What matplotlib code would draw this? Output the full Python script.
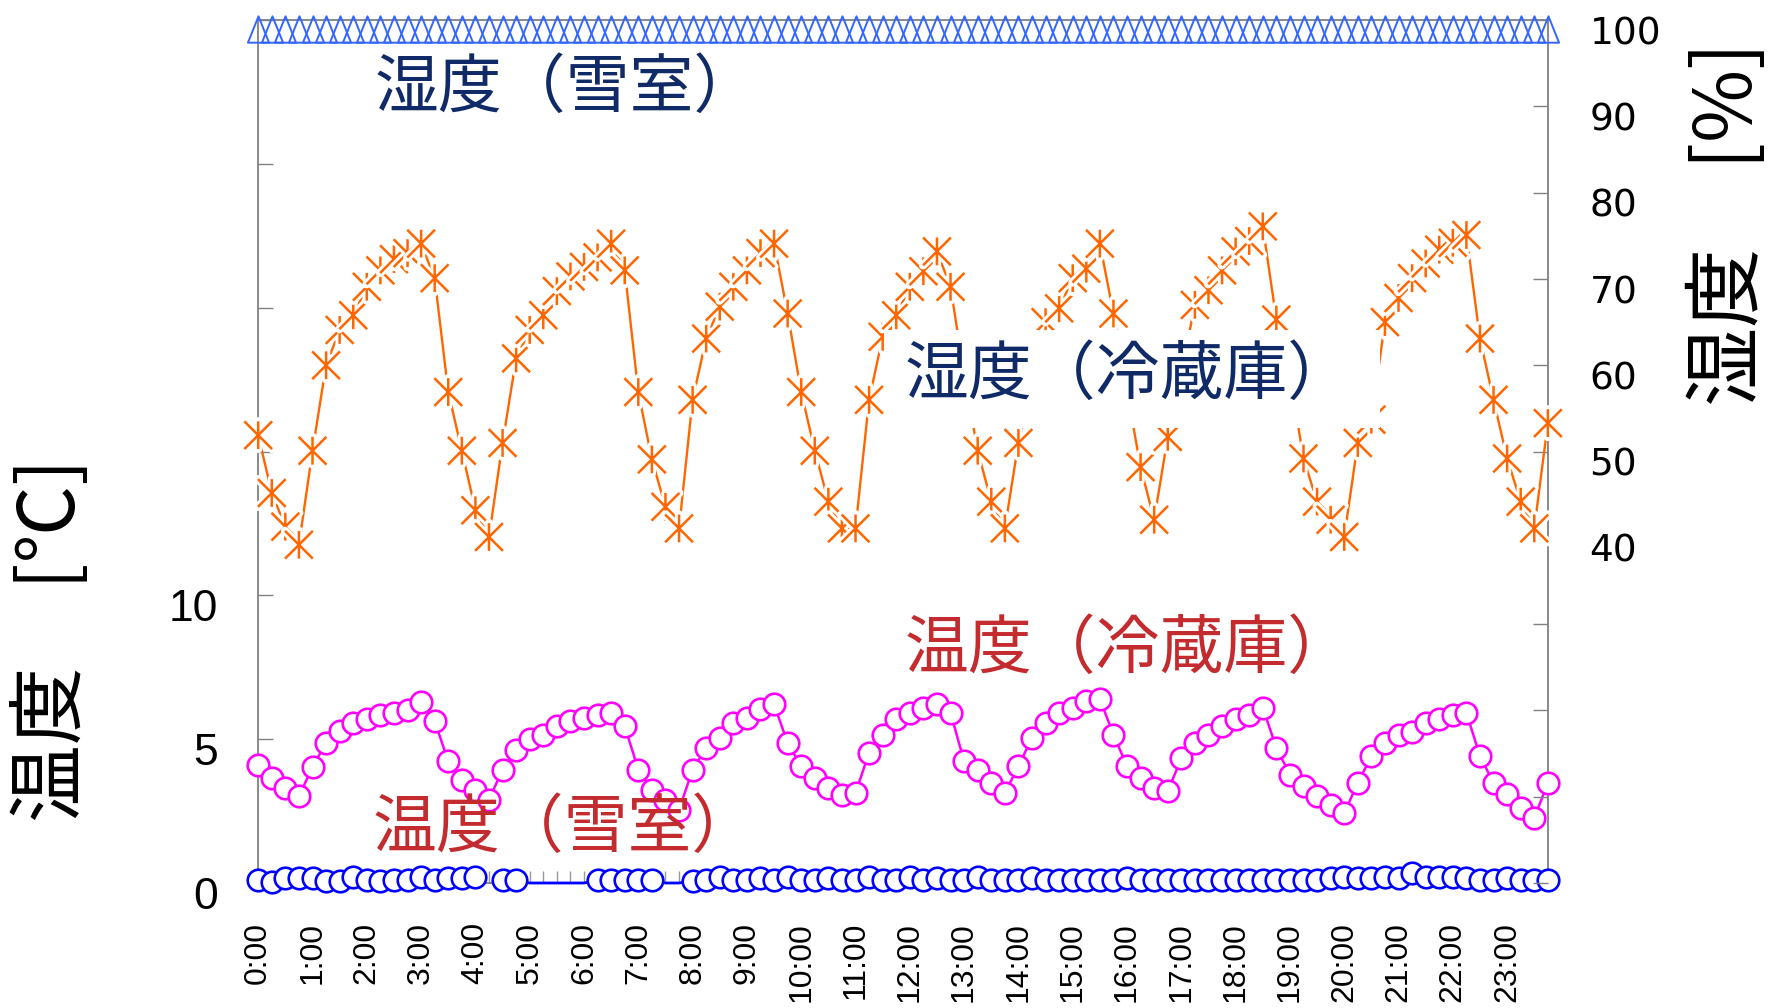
import matplotlib
matplotlib.use('Agg')
import matplotlib.pyplot as plt
import matplotlib.patheffects as pe
import numpy as np
from matplotlib.path import Path
from matplotlib.patches import Rectangle
from matplotlib.transforms import ScaledTranslation

plt.rcParams['font.family'] = ['Liberation Sans', 'Noto Sans CJK JP', 'DejaVu Sans']

# readings every 15 minutes, 0:00 .. 23:45
times = [f"{i // 4}:{(i % 4) * 15:02d}" for i in range(96)]
hour_labels = [f"{h}:00" for h in range(24)]

# 湿度（冷蔵庫） [%]
fridge_humidity = [
    51.9, 45.2, 41.3, 39.2, 50.1, 60.0, 64.1, 65.8,
    69.1, 71.0, 72.3, 73.0, 74.1, 70.1, 56.9, 50.1,
    43.2, 40.1, 51.0, 60.8, 64.1, 65.8, 68.6, 70.3,
    71.4, 72.5, 74.1, 71.0, 56.9, 49.1, 43.6, 41.1,
    56.0, 63.1, 66.8, 69.1, 71.0, 73.0, 74.1, 66.0,
    56.9, 50.1, 44.2, 41.1, 41.1, 56.0, 63.3, 65.8,
    69.1, 70.9, 73.2, 69.1, 58.9, 50.1, 44.2, 41.1,
    51.0, 57.7, 65.0, 66.6, 70.1, 71.2, 74.1, 66.0,
    57.0, 48.2, 42.1, 51.7, 59.2, 67.0, 68.7, 71.0,
    73.2, 74.4, 76.1, 65.3, 58.8, 49.2, 44.2, 42.1,
    40.1, 51.0, 53.7, 65.0, 67.8, 70.1, 71.8, 73.4,
    74.2, 75.1, 63.1, 56.0, 49.2, 44.2, 41.1, 53.3,
]

# 湿度（雪室） [%]
snow_humidity = [
    99, 99, 99, 99, 99, 99, 99, 99, 99, 99, 99, 99,
    99, 99, 99, 99, 99, 99, 99, 99, 99, 99, 99, 99,
    99, 99, 99, 99, 99, 99, 99, 99, 99, 99, 99, 99,
    99, 99, 99, 99, 99, 99, 99, 99, 99, 99, 99, 99,
    99, 99, 99, 99, 99, 99, 99, 99, 99, 99, 99, 99,
    99, 99, 99, 99, 99, 99, 99, 99, 99, 99, 99, 99,
    99, 99, 99, 99, 99, 99, 99, 99, 99, 99, 99, 99,
    99, 99, 99, 99, 99, 99, 99, 99, 99, 99, 99, 99,
]

# 温度（冷蔵庫） [℃]
fridge_temp = [
    4.12, 3.65, 3.30, 3.01, 4.04, 4.87, 5.28, 5.55,
    5.71, 5.83, 5.92, 6.01, 6.29, 5.63, 4.23, 3.59,
    3.24, 2.90, 3.94, 4.64, 4.99, 5.16, 5.45, 5.63,
    5.75, 5.83, 5.92, 5.45, 3.94, 3.24, 2.90, 2.55,
    3.94, 4.70, 5.05, 5.57, 5.75, 6.04, 6.21, 4.87,
    4.06, 3.65, 3.30, 3.07, 3.13, 4.53, 5.16, 5.69,
    5.92, 6.10, 6.21, 5.92, 4.23, 3.94, 3.48, 3.13,
    4.06, 5.05, 5.57, 5.92, 6.10, 6.33, 6.39, 5.16,
    4.06, 3.65, 3.30, 3.19, 4.33, 4.87, 5.13, 5.45,
    5.71, 5.83, 6.10, 4.70, 3.77, 3.38, 3.01, 2.72,
    2.43, 3.48, 4.41, 4.87, 5.16, 5.24, 5.55, 5.71,
    5.83, 5.92, 4.41, 3.48, 3.11, 2.61, 2.26, 3.48,
]

# 温度（雪室） [℃]  (nan = missing reading)
snow_temp = [
    0.10, 0.05, 0.16, 0.16, 0.16, 0.08, 0.08, 0.22,
    0.10, 0.08, 0.10, 0.12, 0.22, 0.10, 0.16, 0.16,
    0.22, np.nan, 0.10, 0.10, 0.0, 0.0, 0.0, 0.0,
    0.0, 0.10, 0.10, 0.12, 0.10, 0.10, 0.0, 0.0,
    0.08, 0.10, 0.22, 0.10, 0.10, 0.16, 0.10, 0.22,
    0.10, 0.10, 0.16, 0.10, 0.10, 0.22, 0.10, 0.10,
    0.22, 0.10, 0.16, 0.10, 0.10, 0.22, 0.10, 0.10,
    0.10, 0.16, 0.10, 0.10, 0.10, 0.10, 0.10, 0.10,
    0.16, 0.10, 0.10, 0.10, 0.10, 0.10, 0.10, 0.10,
    0.10, 0.10, 0.10, 0.10, 0.10, 0.10, 0.10, 0.16,
    0.22, 0.16, 0.16, 0.22, 0.16, 0.34, 0.22, 0.22,
    0.22, 0.16, 0.10, 0.10, 0.16, 0.10, 0.10, 0.10,
]
# readings drawn without a marker in the original
snow_temp_no_marker = [20, 21, 22, 23, 24, 30, 31]

NAVY = '#0F2A66'
RED = '#C42B2E'
GRAY = '#808080'
CJK = 'Noto Sans CJK JP'

fig = plt.figure(figsize=(17.71, 10.08), dpi=100)
ax = fig.add_axes([0.1458, 0.124, 0.7282, 0.856])
ax2 = ax.twinx()

x = np.arange(len(times))

# temperature series on the left axis
ax.plot(x, fridge_temp, color='#FF00FF', lw=1.8, marker='o', ms=15.5,
        mfc='white', mec='#FF00FF', mew=1.9, clip_on=False, zorder=3)
snow_marks = [i for i in range(len(times)) if i not in snow_temp_no_marker]
ax.plot(x, snow_temp, color='#0000FF', lw=2.0, marker='o', ms=15.5,
        mfc='white', mec='#0000FF', mew=1.9, markevery=snow_marks,
        clip_on=False, zorder=3)

# humidity series on the right axis
star = Path([(0, -1), (0, 1), (-1, -1), (1, 1), (-1, 1), (1, -1)],
            [Path.MOVETO, Path.LINETO] * 3)
tri = Path([(0, 1), (-0.8, -1), (0.8, -1), (0, 1)],
           [Path.MOVETO, Path.LINETO, Path.LINETO, Path.CLOSEPOLY])

ax2.plot(x, fridge_humidity, color='#FF6600', lw=1.7, clip_on=False, zorder=2)
halo = [pe.Stroke(linewidth=6, foreground='white', capstyle='round'), pe.Normal()]
for xi, yi in zip(x, fridge_humidity):
    ax2.plot([xi], [yi], ls='none', marker=star, ms=20, mfc='none',
             mec='#FF6600', mew=1.8, clip_on=False, zorder=3,
             path_effects=halo)

ax2.plot(x, snow_humidity, ls='none', marker=tri, ms=19, mfc='none',
         mec='#3366FF', mew=1.4, clip_on=False, zorder=3)

# axes
ax.set_xlim(0, len(times) - 1)
ax.set_ylim(0, 30)
ax2.set_ylim(0, 100)

ax.set_xticks(range(0, len(times), 4))
ax.set_xticklabels(hour_labels, rotation=90, fontsize=23)
ax.set_xticks(range(len(times)), minor=True)
ax.tick_params(axis='x', which='both', direction='in', length=9, width=1,
               color='#999999', pad=28)

ax.set_yticks(range(0, 31, 5))
ax.set_yticklabels(['0', '5', '10', '', '', '', ''], fontsize=32)
ax.tick_params(axis='y', direction='in', length=11, width=1, color=GRAY, pad=29)

ax2.set_yticks(range(0, 101, 10))
ax2.set_yticklabels(['', '', '', '', '40', '50', '60', '70', '80', '90', '100'],
                    fontsize=27, fontfamily='DejaVu Sans')
ax2.tick_params(axis='y', direction='in', length=11, width=1, color=GRAY, pad=30)

# value labels sit a little below their ticks in the original
down = ScaledTranslation(0, -0.10, fig.dpi_scale_trans)
for t in ax.yaxis.get_major_ticks():
    t.label1.set_transform(t.label1.get_transform() + down)
for t in ax2.yaxis.get_major_ticks():
    t.label2.set_transform(t.label2.get_transform() + down)

for s in ax.spines.values():
    s.set_color(GRAY)
    s.set_linewidth(1.3)
for s in ax2.spines.values():
    s.set_visible(False)

# axis titles
fig.text(0.030, 0.365, '温度　[℃]', rotation=90, ha='center', va='center',
         fontsize=56, fontfamily=CJK)
fig.text(0.9766, 0.778, '湿度　[%]', rotation=90, ha='center', va='center',
         fontsize=57, fontfamily=CJK)

# white box behind the fridge humidity caption
fig.add_artist(Rectangle((0.4992, 0.5754), 0.2801, 0.0972, transform=fig.transFigure,
                         facecolor='white', edgecolor='none', zorder=5))

# series captions
fig.text(0.2116, 0.9117, '湿度（雪室）', color=NAVY, fontsize=46, fontfamily=CJK,
         ha='left', va='center', zorder=6)
fig.text(0.5107, 0.627, '湿度（冷蔵庫）', color=NAVY, fontsize=46, fontfamily=CJK,
         ha='left', va='center', zorder=6)
fig.text(0.5107, 0.356, '温度（冷蔵庫）', color=RED, fontsize=46, fontfamily=CJK,
         ha='left', va='center', zorder=6)
fig.text(0.2106, 0.178, '温度（雪室）', color=RED, fontsize=46, fontfamily=CJK,
         ha='left', va='center', zorder=6)

fig.savefig('out.png', dpi=100)
